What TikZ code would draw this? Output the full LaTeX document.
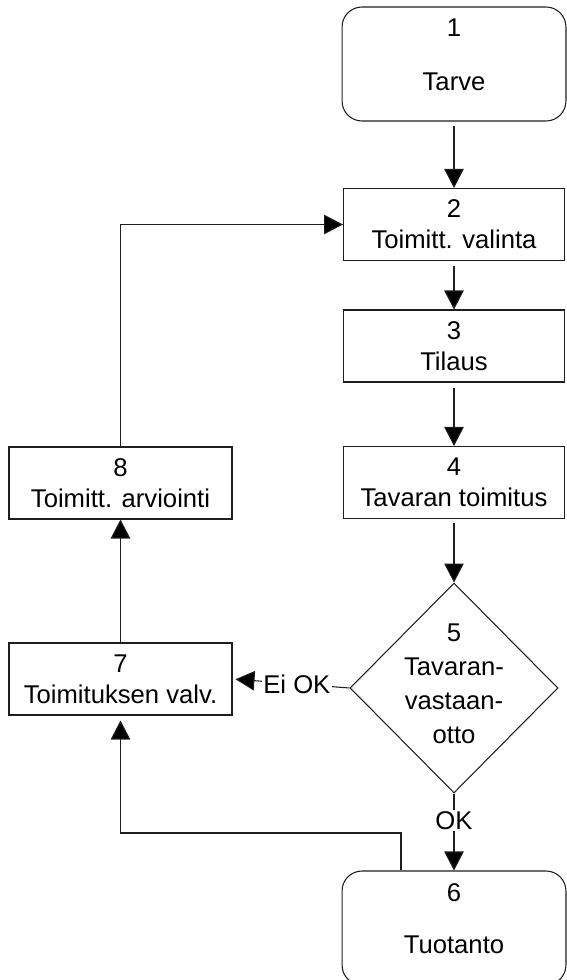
\documentclass[tikz,border=0pt]{standalone}
\usepackage{fontspec}
\setmainfont{Liberation Sans}
\usepackage{tikz}
\usetikzlibrary{arrows.meta}
\usetikzlibrary{positioning,shapes.geometric,calc}
\definecolor{lineblack}{RGB}{30,30,30}
\newcommand{\flowfont}{\fontsize{14.6}{17.6}\selectfont}

\begin{document}
\begin{tikzpicture}[x=0.02cm,y=-0.02cm,
    stepbox/.style={draw=lineblack,line width=0.6pt,minimum width=4.42cm,
      minimum height=1.44cm,align=center,inner sep=0pt,font=\flowfont},
    sidebox/.style={stepbox,minimum width=4.46cm},
    endbox/.style={draw=lineblack,line width=0.6pt,rounded corners=0.4cm,
      minimum width=4.48cm,minimum height=2.28cm,inner sep=0pt},
    decision/.style={draw=lineblack,line width=0.6pt,diamond,inner sep=0pt,
      minimum width=4.16cm,minimum height=4.2cm},
    flowtext/.style={align=center,inner sep=0pt,font=\flowfont},
    flowarr/.style={-{Triangle[length=0.38cm,width=0.39cm,fill=black]},
      line width=0.6pt,draw=lineblack},
    gaplbl/.style={fill=white,inner sep=1pt,font=\flowfont}]
    \clip (0,0) rectangle (567,980);
    % right column
    \node[endbox] (n1) at (454,64) {};
    \node[flowtext] (t1) at (454,55) {1\\[0.46cm]Tarve};
    \node[stepbox] (n2) at (454,224.5) {2\\Toimitt. valinta};
    \node[stepbox] (n3) at (454,346) {3\\Tilaus};
    \node[stepbox] (n4) at (454,482.5) {4\\Tavaran toimitus};
    \node[decision] (n5) at (454,688) {};
    \node[flowtext,font=\fontsize{14.6}{19.3}\selectfont] (t5) at (454,684)
      {5\\Tavaran-\\vastaan-\\otto};
    \node[endbox] (n6) at (454,928) {};
    \node[flowtext] (t6) at (454,919) {6\\[0.42cm]Tuotanto};
    % left column
    \node[sidebox] (n8) at (120.5,483) {8\\Toimitt. arviointi};
    \node[sidebox] (n7) at (120.5,679) {7\\Toimituksen valv.};
    % main flow
    \draw[flowarr,shorten <=0.08cm] (n1.south) -- (n2.north);
    \draw[flowarr,shorten <=0.1cm] (n2.south) -- (n3.north);
    \draw[flowarr,shorten <=0.1cm] (n3.south) -- (n4.north);
    \draw[flowarr,shorten <=0.08cm] (n4.south) -- (n5.north);
    \draw[flowarr] (n5.south) -- node[gaplbl,pos=0.35] (ok) {OK} (n6.north);
    \draw[flowarr,shorten >=0.06cm] (n5.west) -- node[gaplbl,pos=0.45] (eiok)
      {Ei OK} (n7.east);
    % feedback loops
    \coordinate (c6) at (401,833);
    \draw[flowarr,shorten >=0.1cm] (c6 |- n6.north) -- (c6) -| (n7.south);
    \draw[flowarr] (n7.north) -- (n8.south);
    \draw[flowarr] (n8.north) |- (n2.west);
\end{tikzpicture}
\end{document}
